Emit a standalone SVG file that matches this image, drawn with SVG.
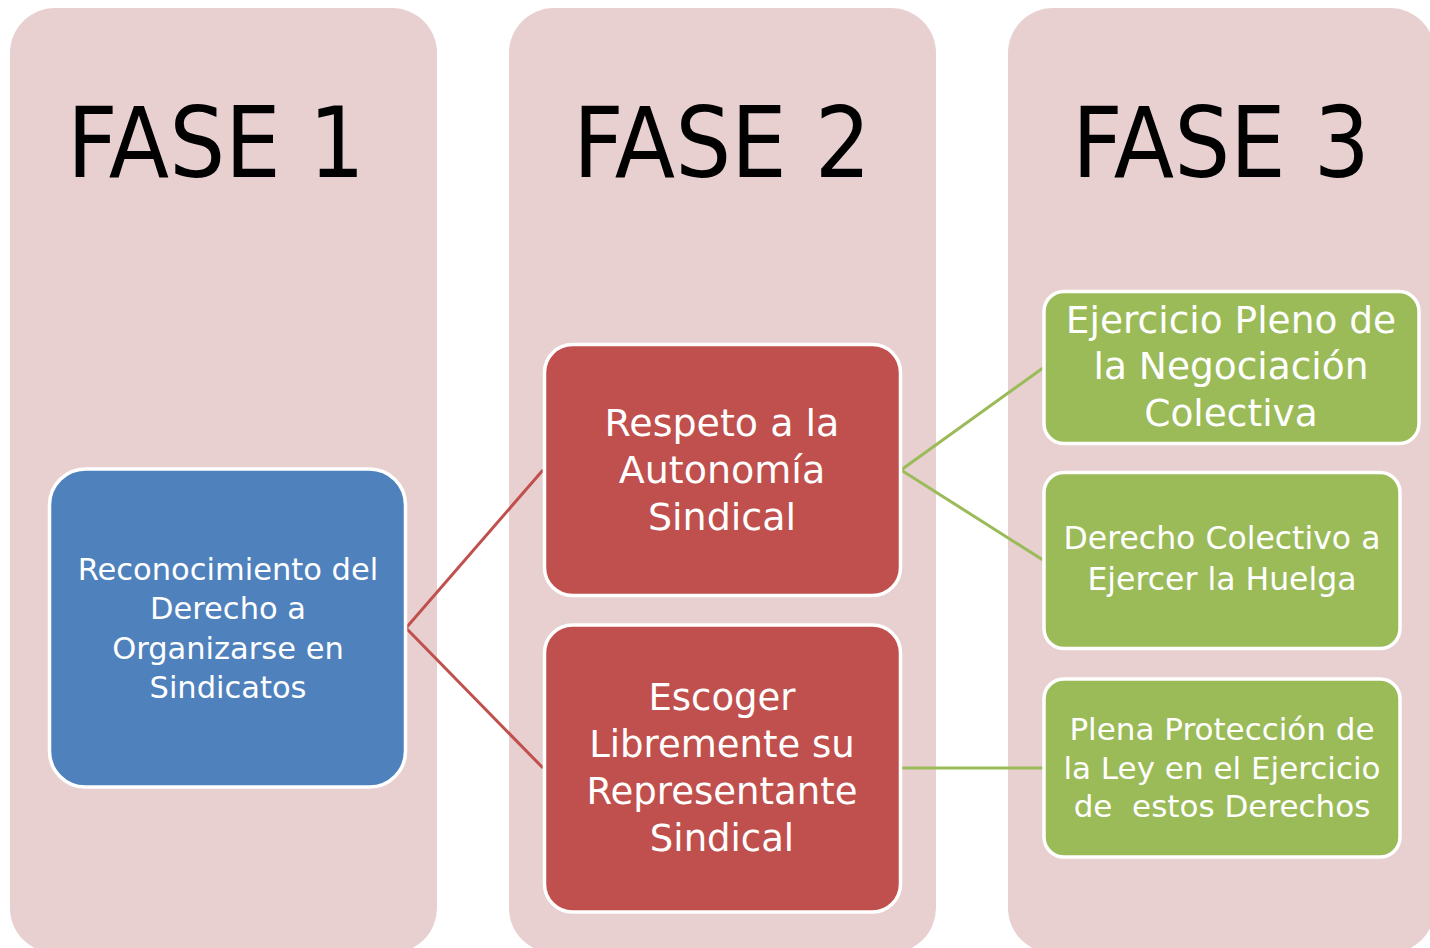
<svg xmlns="http://www.w3.org/2000/svg" width="1430" height="948" viewBox="0 0 1430 948">
  <style>
    .col { fill: #E8D0D1; }
    .head { font-family: "DejaVu Sans Condensed", "DejaVu Sans", sans-serif; font-stretch: condensed; font-size: 98px; fill: #000; text-anchor: middle; }
    .box { stroke: #FFFFFF; stroke-width: 3.5; }
    .blue { fill: #4F81BD; }
    .red { fill: #C0504D; }
    .green { fill: #9BBB59; }
    .t { font-family: "DejaVu Sans", "Liberation Sans", sans-serif; fill: #FFFFFF; text-anchor: middle; }
    .c-red { stroke: #C0504D; stroke-width: 3; fill: none; }
    .c-green { stroke: #9BBB59; stroke-width: 3; fill: none; }
  </style>
  <rect width="1430" height="948" fill="#FFFFFF"/>
  <g id="phase1">
    <rect class="col" x="10" y="8" width="427" height="945" rx="45"/>
    <text class="head" x="216" y="177">FASE 1</text>
  </g>
  <g id="phase2">
    <rect class="col" x="509" y="8" width="427" height="945" rx="45"/>
    <text class="head" x="722" y="177">FASE 2</text>
  </g>
  <g id="phase3">
    <rect class="col" x="1008" y="8" width="427" height="945" rx="45"/>
    <text class="head" x="1221" y="177">FASE 3</text>
  </g>
  <g id="connectors">
    <path class="c-red" d="M406,628 L543,470"/>
    <path class="c-red" d="M406,628 L543,768"/>
    <path class="c-green" d="M901,470 L1043,368"/>
    <path class="c-green" d="M901,470 L1043,560"/>
    <path class="c-green" d="M901,768 L1043,768"/>
  </g>
  <g id="node-reconocimiento">
    <rect class="box blue" x="49.5" y="469" width="356" height="318" rx="36"/>
    <text class="t" font-size="30.5"><tspan x="228" y="580">Reconocimiento del</tspan><tspan x="228" y="619">Derecho a</tspan><tspan x="228" y="659">Organizarse en</tspan><tspan x="228" y="698">Sindicatos</tspan></text>
  </g>
  <g id="node-respeto">
    <rect class="box red" x="544.5" y="344.5" width="356" height="251" rx="28"/>
    <text class="t" font-size="38"><tspan x="722" y="436">Respeto a la</tspan><tspan x="722" y="483">Autonomía</tspan><tspan x="722" y="530">Sindical</tspan></text>
  </g>
  <g id="node-escoger">
    <rect class="box red" x="544.5" y="625" width="356" height="287" rx="28"/>
    <text class="t" font-size="37"><tspan x="722" y="710">Escoger</tspan><tspan x="722" y="757">Libremente su</tspan><tspan x="722" y="804">Representante</tspan><tspan x="722" y="851">Sindical</tspan></text>
  </g>
  <g id="node-ejercicio">
    <rect class="box green" x="1044" y="291.5" width="375" height="152" rx="20"/>
    <text class="t" font-size="37.5"><tspan x="1231" y="333">Ejercicio Pleno de</tspan><tspan x="1231" y="379">la Negociación</tspan><tspan x="1231" y="426">Colectiva</tspan></text>
  </g>
  <g id="node-derecho">
    <rect class="box green" x="1044" y="472.5" width="356" height="176" rx="20"/>
    <text class="t" font-size="31.5"><tspan x="1222" y="549">Derecho Colectivo a</tspan><tspan x="1222" y="590">Ejercer la Huelga</tspan></text>
  </g>
  <g id="node-proteccion">
    <rect class="box green" x="1044" y="679" width="356" height="178" rx="20"/>
    <text class="t" font-size="31" xml:space="preserve"><tspan x="1222" y="740">Plena Protección de</tspan><tspan x="1222" y="779">la Ley en el Ejercicio</tspan><tspan x="1222" y="817">de  estos Derechos</tspan></text>
  </g>
</svg>
